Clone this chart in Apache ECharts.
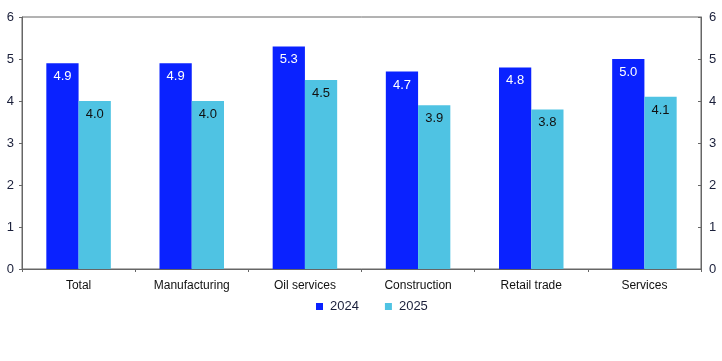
<!DOCTYPE html>
<html>
<head>
<meta charset="utf-8">
<script src="https://cdn.jsdelivr.net/npm/echarts@6/dist/echarts.min.js"></script>
<style>html,body{margin:0;padding:0;background:#fff}#c{width:722px;height:361px}</style>
</head>
<body>
<div id="c"></div>
<script>
var categories = ['Total', 'Manufacturing', 'Oil services', 'Construction', 'Retail trade', 'Services'];
var s2024 = [4.9, 4.9, 5.3, 4.7, 4.8, 5.0];
var s2025 = [4.0, 4.0, 4.5, 3.9, 3.8, 4.1];
var yTicks = [0, 1, 2, 3, 4, 5, 6];

var chart = echarts.init(document.getElementById('c'), null, {renderer: 'canvas'});
var font = 'Liberation Sans, Arial, sans-serif';
var yAxisBase = {
  type: 'value', min: 0, max: 6, interval: 1,
  axisLine: {show: true, lineStyle: {color: '#666', width: 1}},
  axisTick: {show: true, length: 3, lineStyle: {color: '#666'}},
  splitLine: {show: false},
  axisLabel: {color: '#1a1f3a', fontSize: 13, fontFamily: font, margin: 8,
    formatter: function (v) { return yTicks.indexOf(v) >= 0 ? String(v) : ''; }}
};
chart.setOption({
  animation: false,
  grid: {left: 22, right: 21, top: 17, bottom: 92, show: true, borderColor: '#666', borderWidth: 1},
  legend: {
    bottom: 43, left: 311, padding: 5, itemWidth: 7, itemHeight: 7, itemGap: 26, icon: 'rect',
    textStyle: {color: '#1a1f3a', fontSize: 13, fontFamily: font, padding: [0, 0, 0, 2]},
    data: ['2024', '2025']
  },
  xAxis: {
    type: 'category', data: categories,
    axisLine: {show: true, lineStyle: {color: '#666'}},
    axisTick: {show: true, length: 3, alignWithLabel: false, lineStyle: {color: '#666'}},
    axisLabel: {color: '#111', fontSize: 12, fontFamily: font, margin: 11}
  },
  yAxis: [
    Object.assign({}, yAxisBase, {position: 'left'}),
    Object.assign({}, yAxisBase, {position: 'right', axisTick: {show: true, inside: true, length: 3, lineStyle: {color: '#666'}}})
  ],
  series: [
    {name: '2024', type: 'bar', data: s2024, barGap: '0%', barCategoryGap: '43%',
      itemStyle: {color: '#0a22ff'},
      label: {show: true, position: 'insideTop', distance: 7, color: '#fff', fontSize: 13, fontFamily: font,
        formatter: function (p) { return p.value.toFixed(1); }}},
    {name: '2025', type: 'bar', data: s2025, barGap: '0%', barCategoryGap: '43%',
      itemStyle: {color: '#4fc3e3'},
      label: {show: true, position: 'insideTop', distance: 7, color: '#111', fontSize: 13, fontFamily: font,
        formatter: function (p) { return p.value.toFixed(1); }}}
  ]
});
</script>
</body>
</html>
